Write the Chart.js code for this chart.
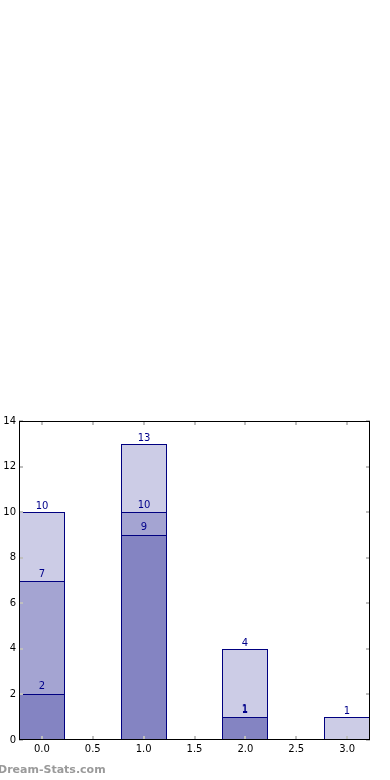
<!DOCTYPE html>
<html>
<head>
<meta charset="utf-8">
<script src="https://cdn.jsdelivr.net/npm/chart.js@4"></script>
<style>
  html, body { margin: 0; padding: 0; background: #fff; }
  #wrap { position: relative; width: 390px; height: 780px; overflow: hidden; }
  canvas { display: block; }
  #wm { position: absolute; left: -2px; top: 763px; font: bold 11px "DejaVu Sans", sans-serif; color: #9a9a9a; white-space: nowrap; }
</style>
</head>
<body>
<div id="wrap">
  <canvas id="c" width="390" height="780"></canvas>
  <div id="wm">Dream-Stats.com</div>
</div>
<script>
// ---- data ----
const categories = [0, 1, 2, 3];
const seriesA = [10, 13, 4, 1];
const seriesB = [7, 10, 1, 0];
const seriesC = [2, 9, 1, 0];
const xTicks = [0, 0.5, 1, 1.5, 2, 2.5, 3];
const yTicks = [0, 2, 4, 6, 8, 10, 12, 14];
const xMin = -0.225, xMax = 3.225;
const yMin = 0, yMax = 14;

const fillCol = 'rgba(0,0,128,0.2)';
const edgeCol = '#000080';
const labelCol = '#00008B';

function toPoints(arr) { return categories.map((c, i) => ({ x: c, y: arr[i] })); }

const crispBars = {
  id: 'crispBars',
  beforeDatasetsDraw(chart) {
    chart.data.datasets.forEach((ds, di) => {
      chart.getDatasetMeta(di).data.forEach(el => {
        const l = Math.round(el.x - el.width / 2);
        const r = Math.round(el.x + el.width / 2);
        el.x = (l + r) / 2;
        el.width = r - l;
        el.y = Math.round(el.y);
        el.base = Math.round(el.base);
      });
    });
  }
};

const frameAndTicks = {
  id: 'frameAndTicks',
  afterDatasetsDraw(chart) {
    const { ctx, chartArea: a, scales } = chart;
    ctx.save();
    ctx.fillStyle = '#bfbfbf';
    xTicks.forEach(v => {
      const px = Math.round(scales.x.getPixelForValue(v));
      ctx.fillRect(px - 1, a.bottom - 4, 2, 4);
      ctx.fillRect(px - 1, a.top, 2, 4);
    });
    yTicks.forEach(v => {
      const py = Math.round(scales.y.getPixelForValue(v));
      ctx.fillRect(a.left, py - 1, 4, 2);
      ctx.fillRect(a.right - 4, py - 1, 4, 2);
    });
    ctx.strokeStyle = '#000';
    ctx.lineWidth = 1;
    ctx.strokeRect(Math.round(a.left) + 0.5, Math.round(a.top) + 0.5,
                   Math.round(a.right - a.left) - 1, Math.round(a.bottom - a.top) - 1);
    ctx.fillStyle = labelCol;
    ctx.font = '10px "DejaVu Sans", sans-serif';
    ctx.textAlign = 'center';
    ctx.textBaseline = 'bottom';
    chart.data.datasets.forEach((ds, di) => {
      const meta = chart.getDatasetMeta(di);
      meta.data.forEach((bar, i) => {
        const v = ds.data[i].y;
        if (!v) return;
        ctx.fillText(String(v), bar.x, bar.y - 1 - di * 1);
      });
    });
    ctx.restore();
  }
};

const mk = (label, arr) => ({
  label,
  data: toPoints(arr),
  backgroundColor: fillCol,
  borderColor: edgeCol,
  borderWidth: 1,
  borderSkipped: false,
  grouped: false,
  barPercentage: 0.9,
  categoryPercentage: 1.0
});

new Chart(document.getElementById('c'), {
  type: 'bar',
  data: {
    datasets: [mk('A', seriesA), mk('B', seriesB), mk('C', seriesC)]
  },
  options: {
    responsive: false,
    animation: false,
    devicePixelRatio: 1,
    layout: { padding: { top: 421, left: 0, right: 20, bottom: 20 } },
    plugins: { legend: { display: false }, tooltip: { enabled: false } },
    scales: {
      x: {
        type: 'linear',
        min: xMin, max: xMax,
        offset: false,
        grid: { display: false, offset: false, drawTicks: false, tickLength: 0 },
        border: { display: false },
        afterBuildTicks(s) { s.ticks = xTicks.map(v => ({ value: v })); },
        afterFit(s) { s.height = 20; },
        ticks: {
          padding: 3,
          color: '#000',
          font: { family: 'DejaVu Sans', size: 10 },
          callback: v => Number(v).toFixed(1),
          maxRotation: 0, autoSkip: false
        }
      },
      y: {
        min: yMin, max: yMax,
        grid: { display: false, drawTicks: false, tickLength: 0 },
        border: { display: false },
        afterBuildTicks(s) { s.ticks = yTicks.map(v => ({ value: v })); },
        afterFit(s) { s.width = 19; },
        ticks: {
          padding: 3,
          color: '#000',
          font: { family: 'DejaVu Sans', size: 10 }
        }
      }
    }
  },
  plugins: [crispBars, frameAndTicks]
});
</script>
</body>
</html>
